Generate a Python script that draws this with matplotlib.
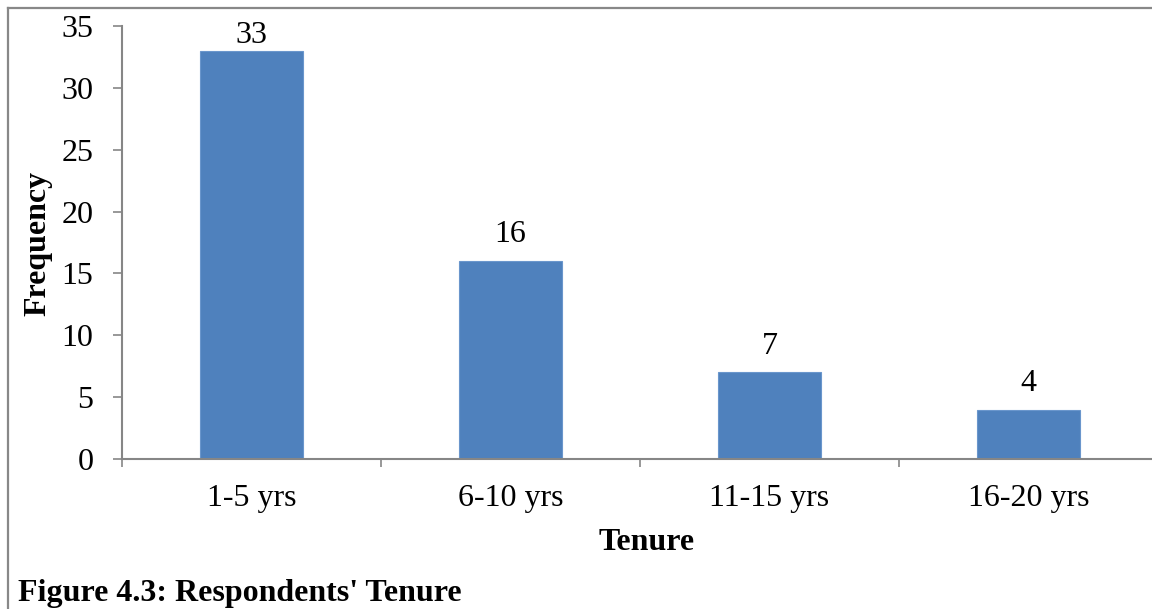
import matplotlib.pyplot as plt
from matplotlib.lines import Line2D

categories = ["1-5 yrs", "6-10 yrs", "11-15 yrs", "16-20 yrs"]
frequency = [33, 16, 7, 4]
y_ticks = [0, 5, 10, 15, 20, 25, 30, 35]

plt.rcParams["font.family"] = ["Liberation Serif", "DejaVu Serif"]
FS = 23

W, H = 1152, 609
fig = plt.figure(figsize=(W / 100, H / 100), dpi=100)
ax = fig.add_axes([122 / W, (H - 459) / H, (1158 - 122) / W, (459 - 26) / H])

x = range(len(categories))
bars = ax.bar(x, frequency, width=0.4, color="#4F81BD", edgecolor="#6A96CC", linewidth=0.8, zorder=2)
ymax = y_ticks[-1]
for b, v in zip(bars, frequency):
    # labels sit above the bar, squeezed down when they would run off the top
    ax.text(b.get_x() + b.get_width() / 2, min(v + 0.95, ymax - 1.95), str(v),
            ha="center", va="bottom", fontsize=FS)

ax.set_xlim(-0.5, len(categories) - 0.5)
ax.set_ylim(0, ymax)
ax.set_yticks(y_ticks)
ax.set_yticklabels([str(t) for t in y_ticks], fontsize=FS)
ax.set_xticks(list(x))
ax.set_xticklabels(categories, fontsize=FS)
ax.tick_params(axis="x", length=0, pad=18)
ax.tick_params(axis="y", length=6.5, width=1.2, color="#868686", pad=14)
# category boundary ticks on x axis
ax.set_xticks([i - 0.5 for i in range(len(categories) + 1)], minor=True)
ax.tick_params(axis="x", which="minor", length=6, width=1.2, color="#868686", direction="out")

for s in ["top", "right"]:
    ax.spines[s].set_visible(False)
for s in ["left", "bottom"]:
    ax.spines[s].set_color("#868686")
    ax.spines[s].set_linewidth(1.5)

fig.text(38 / W, 1 - 243 / H, "Frequency", rotation=90, ha="center", va="center",
         fontsize=FS, fontweight="bold")
fig.text(647 / W, 1 - 542 / H, "Tenure", ha="center", va="center",
         fontsize=FS, fontweight="bold")
fig.text(18 / W, 1 - 593 / H, "Figure 4.3: Respondents' Tenure", ha="left", va="center",
         fontsize=FS, fontweight="bold")

# outer frame (top and left edges visible)
fig.add_artist(Line2D([8 / W, 1], [1 - 8 / H, 1 - 8 / H], transform=fig.transFigure, color="#888888", lw=1.6))
fig.add_artist(Line2D([8 / W, 8 / W], [0, 1 - 8 / H], transform=fig.transFigure, color="#888888", lw=1.6))

fig.savefig("out.png", dpi=100)
